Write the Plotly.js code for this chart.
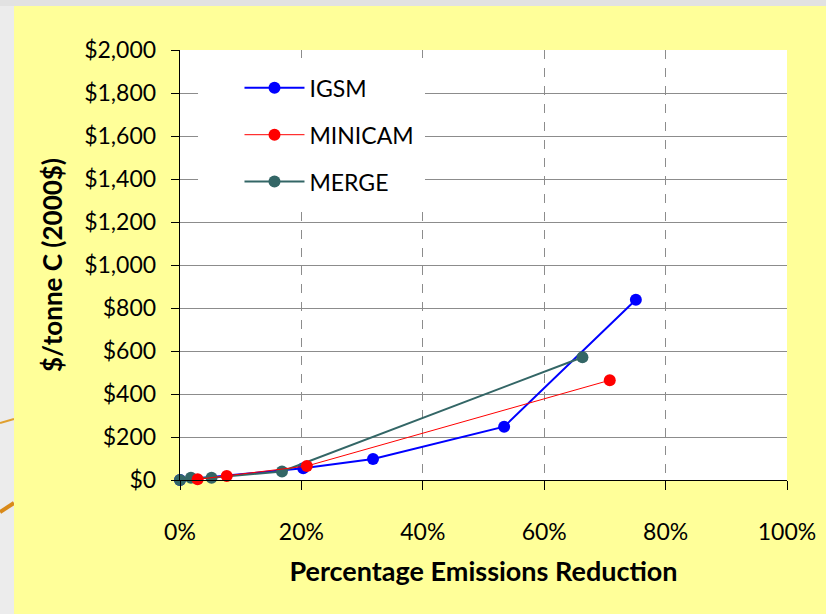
<!DOCTYPE html>
<html>
<head>
<meta charset="utf-8">
<script src="https://cdn.plot.ly/plotly-3.0.1.min.js"></script>
<style>html,body{margin:0;padding:0;background:#e4e4e4;}#chart{width:826px;height:614px;}</style>
</head>
<body>
<div id="chart"></div>
<script>
// Data
var seriesNames = ["IGSM", "MINICAM", "MERGE"];
var igsmX = [0, 20.3, 31.8, 53.4, 75.1];
var igsmY = [0, 55, 98, 248, 838];
var minicamX = [2.9, 7.7, 20.9, 70.8];
var minicamY = [3, 19, 65, 464];
var mergeX = [0, 1.8, 5.2, 16.8, 66.3];
var mergeY = [0, 10, 10, 40, 571];
var xTickVals = [0, 20, 40, 60, 80, 100];
var xTickText = ["0%", "20%", "40%", "60%", "80%", "100%"];
var yTickVals = [0, 200, 400, 600, 800, 1000, 1200, 1400, 1600, 1800, 2000];
var yTickText = ["$0", "$200", "$400", "$600", "$800", "$1,000", "$1,200", "$1,400", "$1,600", "$1,800", "$2,000"];

var FONT = "Lato, 'Open Sans', sans-serif";

var traces = [
  {x: igsmX, y: igsmY, name: seriesNames[0], mode: "lines+markers", legendrank: 1, legendgroup: "a", cliponaxis: false,
   line: {color: "#0000FF", width: 2}, marker: {color: "#0000FF", size: 12}},
  {x: mergeX, y: mergeY, name: seriesNames[2], mode: "lines+markers", legendrank: 3, legendgroup: "c", cliponaxis: false,
   line: {color: "#336666", width: 2}, marker: {color: "#336666", size: 12}},
  {x: minicamX, y: minicamY, name: seriesNames[1], mode: "lines+markers", legendrank: 2, legendgroup: "b", cliponaxis: false,
   line: {color: "#FF0000", width: 1}, marker: {color: "#FF0000", size: 12}}
];

var layout = {
  width: 826, height: 614,
  margin: {l: 180, r: 39, t: 50, b: 134},
  paper_bgcolor: "#e2e2e2",
  plot_bgcolor: "#FFFFFF",
  font: {family: FONT, size: 23, color: "#000"},
  showlegend: true,
  legend: {
    x: 0.098, y: 0.962, xanchor: "left", yanchor: "top",
    bgcolor: "rgba(0,0,0,0)", borderwidth: 0,
    font: {family: FONT, size: 23, color: "#000"},
    itemwidth: 60,
    tracegroupgap: 14, traceorder: "grouped"
  },
  xaxis: {
    range: [0, 100], tickvals: xTickVals, ticktext: xTickText,
    showline: true, linecolor: "#000", linewidth: 1.3,
    ticks: "outside", ticklen: 9, tickcolor: "#000", tickwidth: 1,
    ticklabelstandoff: 22,
    showgrid: true, gridcolor: "#8c8c8c", gridwidth: 1, griddash: "dash",
    zeroline: false, fixedrange: true,
    title: {text: "<b>Percentage Emissions Reduction</b>", font: {family: FONT, size: 27, color: "#000"}, standoff: 18}
  },
  yaxis: {
    range: [0, 2000], tickvals: yTickVals, ticktext: yTickText,
    showline: true, linecolor: "#000", linewidth: 1.3,
    ticks: "outside", ticklen: 8, tickcolor: "#000", tickwidth: 1,
    ticklabelstandoff: 10,
    showgrid: true, gridcolor: "#8c8c8c", gridwidth: 1,
    zeroline: false, fixedrange: true,
    title: {text: "<b>$/tonne C (2000$)</b>", font: {family: FONT, size: 26, color: "#000"}, standoff: 14}
  },
  shapes: [
    {type: "rect", xref: "paper", yref: "paper", x0: -0.2965, x1: -0.2735, y0: -0.32, y1: 1.1023,
     fillcolor: "#ececec", line: {width: 0}, layer: "below"},
    {type: "path", xref: "paper", yref: "paper", path: "M-0.2965,0.1326 L-0.2735,0.1419",
     line: {color: "#e0a030", width: 2}, layer: "below"},
    {type: "path", xref: "paper", yref: "paper", path: "M-0.2965,-0.0744 L-0.2735,-0.0535",
     line: {color: "#d98a1a", width: 4}, layer: "below"},
    {type: "rect", xref: "paper", yref: "paper", x0: -0.2735, x1: 1.07, y0: -0.32, y1: 1.1023,
     fillcolor: "#FFFF99", line: {width: 0}, layer: "below"},
    {type: "rect", xref: "paper", yref: "paper", x0: 0, x1: 1, y0: 0, y1: 1,
     fillcolor: "#FFFFFF", line: {width: 0}, layer: "below"},
    {type: "rect", xref: "x", yref: "y", x0: 2.97, x1: 40.36, y0: 1256, y1: 1963,
     fillcolor: "#FFFFFF", line: {width: 0}, layer: "between"}
  ]
};

Plotly.newPlot("chart", traces, layout, {displayModeBar: false, staticPlot: true});
</script>
</body>
</html>
